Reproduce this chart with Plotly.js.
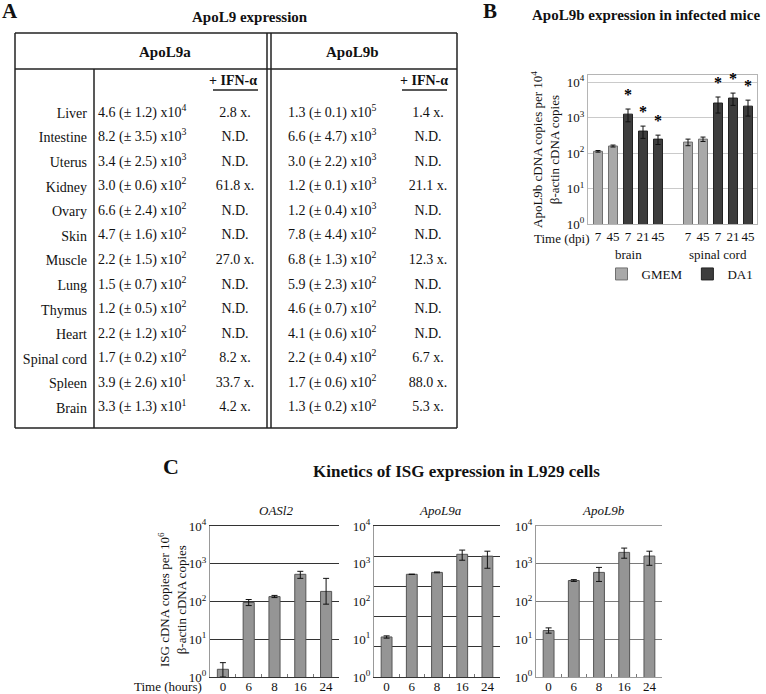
<!DOCTYPE html>
<html>
<head>
<meta charset="utf-8">
<script src="https://cdn.plot.ly/plotly-3.0.1.min.js"></script>
<style>
  html, body { margin: 0; padding: 0; background: #fff; }
  #fig { width: 766px; height: 694px; }
</style>
</head>
<body>
<div id="fig"></div>
<script>
// --- panel A : basal ApoL9 expression in tissues ---
const tissues = ['Liver', 'Intestine', 'Uterus', 'Kidney', 'Ovary', 'Skin', 'Muscle',
                 'Lung', 'Thymus', 'Heart', 'Spinal cord', 'Spleen', 'Brain'];
const apol9aMean = [4.6, 8.2, 3.4, 3.0, 6.6, 4.7, 2.2, 1.5, 1.2, 2.2, 1.7, 3.9, 3.3];
const apol9aSd   = [1.2, 3.5, 2.5, 0.6, 2.4, 1.6, 1.5, 0.7, 0.5, 1.2, 0.2, 2.6, 1.3];
const apol9aExp  = [4, 3, 3, 2, 2, 2, 2, 2, 2, 2, 2, 1, 1];
const apol9aIfn  = [2.8, null, null, 61.8, null, null, 27.0, null, null, null, 8.2, 33.7, 4.2];
const apol9bMean = [1.3, 6.6, 3.0, 1.2, 1.2, 7.8, 6.8, 5.9, 4.6, 4.1, 2.2, 1.7, 1.3];
const apol9bSd   = [0.1, 4.7, 2.2, 0.1, 0.4, 4.4, 1.3, 2.3, 0.7, 0.6, 0.4, 0.6, 0.2];
const apol9bExp  = [5, 3, 3, 3, 3, 2, 2, 2, 2, 2, 2, 2, 2];
const apol9bIfn  = [1.4, null, null, 21.1, null, null, 12.3, null, null, null, 6.7, 88.0, 5.3];

// --- panel B : ApoL9b in infected mice ---
const dpi = ['7', '45', '7', '21', '45'];
const treatment = ['GMEM', 'GMEM', 'DA1', 'DA1', 'DA1'];
const brainMean = [112, 158, 1250, 417, 247];
const brainErr = [6, 10, 490, 158, 73];
const brainSig = [false, false, true, true, true];
const spinalMean = [204, 247, 2570, 3550, 2100];
const spinalErr = [43, 35, 1230, 1350, 1000];
const spinalSig = [false, false, true, true, true];

// --- panel C : kinetics in L929 cells ---
const hours = ['0', '6', '8', '16', '24'];
const oasl2Mean = [1.6, 94, 135, 525, 185];
const oasl2Plus = [0.8, 19, 10, 105, 225];
const oasl2Minus = [0.6, 16, 8, 115, 100];
const kinApol9aMean = [11.5, 525, 590, 1780, 1590];
const kinApol9aPlus = [0.8, 0, 15, 520, 560];
const kinApol9aMinus = [0.8, 0, 15, 540, 830];
const kinApol9bMean = [17, 360, 590, 2000, 1600];
const kinApol9bPlus = [3, 20, 210, 600, 550];
const kinApol9bMinus = [2.5, 20, 250, 600, 690];

const decades = [1, 10, 100, 1000, 10000];
const decadeText = ['10<sup>0</sup>', '10<sup>1</sup>', '10<sup>2</sup>', '10<sup>3</sup>', '10<sup>4</sup>'];

const W = 766, H = 694;
const serif = 'Liberation Serif, Times New Roman, serif';
function fx(p) { return p / W; }
function fy(p) { return 1 - p / H; }

const traces = [];

// table cells
const tableFont = {family: serif, size: 14, color: '#111111'};
function valueText(m, s, e) {
  return m.toFixed(1) + ' (\u00b1 ' + s.toFixed(1) + ') x10<sup>' + e + '</sup>';
}
function foldText(v) { return v == null ? 'N.D.' : v.toFixed(1) + ' x.'; }
function cellTrace(col, texts, pos) {
  return {
    type: 'scatter', mode: 'text', xaxis: 'x5', yaxis: 'y5',
    x: tissues.map(() => col), y: tissues, text: texts,
    textposition: pos, textfont: tableFont, showlegend: false, cliponaxis: false
  };
}
const cols = {aVal: 98, aFold: 235, bVal: 288, bFold: 428};
traces.push(cellTrace(cols.aVal, tissues.map((t, i) => valueText(apol9aMean[i], apol9aSd[i], apol9aExp[i])), 'middle right'));
traces.push(cellTrace(cols.aFold, apol9aIfn.map(foldText), 'middle center'));
traces.push(cellTrace(cols.bVal, tissues.map((t, i) => valueText(apol9bMean[i], apol9bSd[i], apol9bExp[i])), 'middle right'));
traces.push(cellTrace(cols.bFold, apol9bIfn.map(foldText), 'middle center'));

// panel B bars
const bGroups = [
  {name: 'brain', mean: brainMean, err: brainErr, sig: brainSig},
  {name: 'spinal cord', mean: spinalMean, err: spinalErr, sig: spinalSig}
];
const bPos = [], bMean = [], bErr = [], bTreat = [], bSig = [], bTick = [], bGroup = [];
bGroups.forEach((g, gi) => {
  g.mean.forEach((v, i) => {
    bPos.push(gi * (dpi.length + 1) + i);
    bMean.push(v);
    bErr.push(g.err[i]);
    bTreat.push(treatment[i]);
    bSig.push(g.sig[i]);
    bTick.push(dpi[i]);
    bGroup.push(gi);
  });
});
const bStyle = {
  GMEM: {color: '#a9a9a9', line: '#707070'},
  DA1: {color: '#3d3d3d', line: '#222222'}
};
['GMEM', 'DA1'].forEach(t => {
  const idx = bPos.map((p, i) => i).filter(i => bTreat[i] === t);
  traces.push({
    type: 'bar', name: t, xaxis: 'x', yaxis: 'y',
    x: idx.map(i => bPos[i]), y: idx.map(i => bMean[i]), width: 0.6,
    marker: {color: bStyle[t].color, line: {color: bStyle[t].line, width: 1}},
    error_y: {type: 'data', array: idx.map(i => bErr[i]), color: '#111111', thickness: 1, width: 2.5}
  });
});

// panel C bars
function kinTrace(mean, plus, minus, xa, ya) {
  return {
    type: 'bar', x: hours, y: mean, xaxis: xa, yaxis: ya, width: 0.43, showlegend: false,
    marker: {color: '#959595', line: {color: '#555555', width: 1}},
    error_y: {type: 'data', symmetric: false, array: plus, arrayminus: minus,
              color: '#111111', thickness: 1, width: 3}
  };
}
traces.push(kinTrace(oasl2Mean, oasl2Plus, oasl2Minus, 'x2', 'y2'));
traces.push(kinTrace(kinApol9aMean, kinApol9aPlus, kinApol9aMinus, 'x3', 'y3'));
traces.push(kinTrace(kinApol9bMean, kinApol9bPlus, kinApol9bMinus, 'x4', 'y4'));

// axes
const tickFont = {family: serif, size: 13, color: '#111111'};
const yTickFont = {family: serif, size: 13, color: '#111111'};
function kinX(x0, x1, anchor, lineColor) {
  return {
    domain: [fx(x0), fx(x1)], anchor: anchor, type: 'category', range: [-0.5, 4.5],
    showline: true, mirror: true, linecolor: lineColor, linewidth: 1,
    ticks: 'inside', tickson: 'boundaries', ticklen: 3, tickcolor: '#777777',
    tickfont: tickFont, tickangle: 0, ticklabelstandoff: -3, showgrid: false, fixedrange: true
  };
}
function kinY(anchor, gridColor) {
  return {
    domain: [fy(677), fy(526)], anchor: anchor, type: 'log', range: [0, 4],
    tickmode: 'array', tickvals: decades, ticktext: decadeText, tickfont: yTickFont,
    showgrid: true, gridcolor: gridColor, gridwidth: 1,
    showline: true, linecolor: '#999999', ticks: '', zeroline: false, fixedrange: true
  };
}

const yC2 = kinY('x3', '#333333');
yC2.showgrid = false;
yC2.minor = {tickmode: 'array', tickvals: [0.8, 1.6, 2.4, 3.2].map(v => Math.pow(10, v)),
             showgrid: true, gridcolor: '#333333', gridwidth: 1, ticks: ''};

const shapes = [];
function line(x0, y0, x1, y1, w) {
  shapes.push({type: 'line', xref: 'paper', yref: 'paper',
               x0: fx(x0), y0: fy(y0), x1: fx(x1), y1: fy(y1),
               line: {color: '#222222', width: w}});
}
// table frame
line(15, 33, 457, 33, 1.5);
line(15, 428, 457, 428, 1.5);
line(15, 33, 15, 428, 1.5);
line(457, 33, 457, 428, 1.5);
line(15, 69, 457, 69, 1.5);
line(94, 69, 94, 428, 1.5);
line(267, 33, 267, 428, 1.5);
line(271, 33, 271, 428, 1.5);
line(213, 90, 258, 90, 1.5);
line(402, 90, 447, 90, 1.5);

const annotations = [];
function note(text, x, y, size, opts) {
  annotations.push(Object.assign({
    text: text, xref: 'paper', yref: 'paper', x: fx(x), y: fy(y),
    showarrow: false, font: {family: serif, size: size, color: '#111111'},
    xanchor: 'center', yanchor: 'middle'
  }, opts || {}));
}
note('<b>A</b>', 10, 11, 21);
note('<b>B</b>', 490, 11, 21);
note('<b>C</b>', 171, 466, 22);
note('<b>ApoL9 expression</b>', 250, 17, 15);
note('<b>ApoL9a</b>', 165, 52, 15);
note('<b>ApoL9b</b>', 352, 52, 15);
note('<b>+ IFN-\u03b1</b>', 233, 80, 14);
note('<b>+ IFN-\u03b1</b>', 424, 80, 14);
note('<b>ApoL9b expression in infected mice</b>', 646, 15, 15);
note('ApoL9b cDNA copies per 10<sup>4</sup><br>\u03b2-actin cDNA copies', 545, 150, 13, {textangle: -90});
note('Time (dpi)', 592, 238, 13, {xanchor: 'right'});
// group names under the B axis, centred on each group's bars
bGroups.forEach((g, gi) => {
  const gp = bPos.filter((p, i) => bGroup[i] === gi);
  annotations.push({
    text: g.name, xref: 'x', yref: 'paper', x: (gp[0] + gp[gp.length - 1]) / 2, y: fy(254),
    showarrow: false, font: {family: serif, size: 13, color: '#111111'}
  });
});
// significance stars above the error bars
bPos.forEach((p, i) => {
  if (!bSig[i]) return;
  annotations.push({
    text: '<b>*</b>', xref: 'x', yref: 'y', x: p, y: Math.log10((bMean[i] + bErr[i]) * 1.3),
    showarrow: false, yanchor: 'bottom', font: {family: serif, size: 16, color: '#000000'}
  });
});
note('<b>Kinetics of ISG expression in L929 cells</b>', 456, 471, 17);
note('<i>OASl2</i>', 276, 510, 13);
note('<i>ApoL9a</i>', 440, 510, 13);
note('<i>ApoL9b</i>', 603, 510, 13);
note('ISG cDNA copies per 10<sup>6</sup><br>\u03b2-actin cDNA copies', 172, 600, 13, {textangle: -90});
note('Time (hours)', 204, 686, 13, {xanchor: 'right'});

const layout = {
  width: W, height: H,
  margin: {l: 0, r: 0, t: 0, b: 0},
  paper_bgcolor: '#ffffff', plot_bgcolor: 'rgba(0,0,0,0)',
  font: {family: serif, size: 13, color: '#111111'},
  barmode: 'overlay', hovermode: false,
  showlegend: true,
  legend: {orientation: 'h', x: fx(680), xanchor: 'center', y: fy(274), yanchor: 'middle',
           font: {family: serif, size: 13, color: '#111111'}, bgcolor: 'rgba(0,0,0,0)'},
  xaxis: {
    domain: [fx(588), fx(757)], anchor: 'y', range: [-0.667, 10.6],
    tickmode: 'array', tickvals: bPos, ticktext: bTick, tickfont: tickFont, tickangle: 0,
    showline: true, mirror: true, linecolor: '#b5b5b5', showgrid: false, zeroline: false,
    ticks: '', fixedrange: true
  },
  yaxis: {
    domain: [fy(224), fy(75)], anchor: 'x', type: 'log', range: [0, 4.2],
    tickmode: 'array', tickvals: decades, ticktext: decadeText, tickfont: yTickFont,
    showgrid: true, gridcolor: '#cacaca', showline: true, mirror: true, linecolor: '#b5b5b5',
    ticks: '', zeroline: false, fixedrange: true
  },
  xaxis2: kinX(210, 339, 'y2', '#333333'),
  yaxis2: kinY('x2', '#333333'),
  xaxis3: kinX(374, 500, 'y3', '#333333'),
  yaxis3: yC2,
  xaxis4: kinX(536, 662, 'y4', '#9a9a9a'),
  yaxis4: kinY('x4', '#7a7a7a'),
  xaxis5: {domain: [fx(94), fx(457)], anchor: 'y5', range: [94, 457], visible: false, fixedrange: true},
  yaxis5: {
    domain: [fy(428), fy(69)], anchor: 'x5', type: 'category',
    categoryorder: 'array', categoryarray: tissues,
    range: [(428 - 113) / 24.58, -(113 - 69) / 24.58],
    showgrid: false, zeroline: false, showline: false, ticks: '',
    tickfont: tableFont, ticklabelstandoff: 6, fixedrange: true
  },
  shapes: shapes,
  annotations: annotations
};

Plotly.newPlot('fig', traces, layout, {staticPlot: true});
</script>
</body>
</html>
